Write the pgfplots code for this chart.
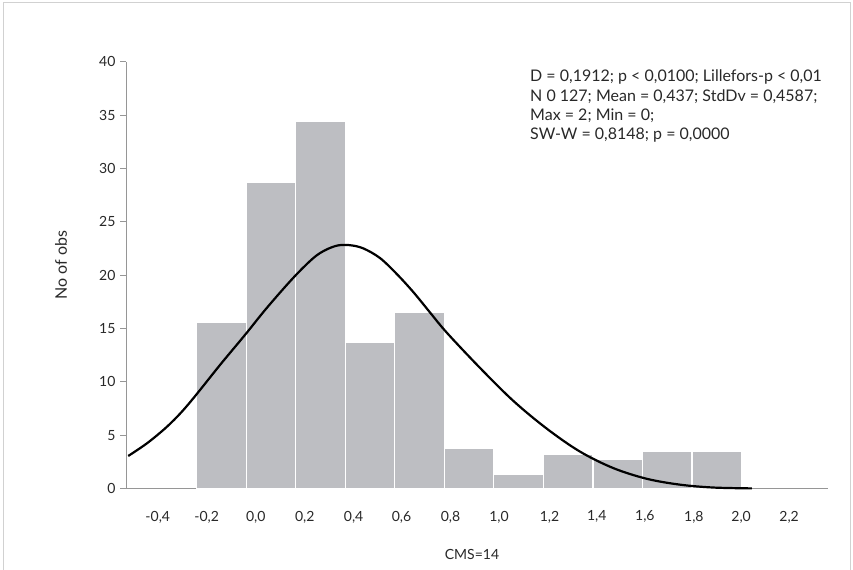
\documentclass[border=0pt]{standalone}
\usepackage{pgfplots}
\pgfplotsset{compat=1.18}
\usepackage{fontspec}
\setmainfont{Lato}
\definecolor{bargray}{RGB}{189,190,194}
\definecolor{txt}{RGB}{40,40,40}
\definecolor{axgray}{RGB}{150,150,150}
\begin{document}
\begin{tikzpicture}[x=1bp,y=1bp]
\useasboundingbox (0,0) rectangle (853,570);
\draw[black!18, line width=1bp] (3,-2) -- (3,567) -- (850,567) -- (850,-2);
\begin{axis}[
  at={(126bp,81.6bp)}, anchor=south west,
  scale only axis, width=702bp, height=426.6bp,
  xmin=-0.526, xmax=2.31, ymin=0, ymax=40,
  axis x line*=bottom, axis y line*=left,
  axis line style={axgray, line width=0.9bp},
  xtick={-0.3976,-0.2,-0.002,0.196,0.3935,0.587,0.785,0.981,1.185,1.376,1.570,1.768,1.959,2.153},
  xticklabels={-0{,}4,-0{,}2,0{,}0,0{,}2,0{,}4,0{,}6,0{,}8,1{,}0,1{,}2,1{,}4,1{,}6,1{,}8,2{,}0,2{,}2},
  x tick style={draw=none},
  ytick={0,5,...,40},
  y tick style={axgray, line width=0.9bp},
  tick align=outside, major tick length=6bp,
  /pgf/number format/assume math mode=true,
  tick label style={font=\fontsize{14bp}{16bp}\selectfont, text=txt},
  xticklabel style={yshift=-13bp},
  yticklabel style={xshift=-1bp},
  clip=false,
]
\addplot[ybar interval, fill=bargray, draw=white, line width=1.3bp] coordinates {
(-0.24,15.6) (-0.04,28.7) (0.16,34.4) (0.36,13.7) (0.56,16.5) (0.76,3.8)
(0.96,1.3) (1.16,3.2) (1.36,2.7) (1.56,3.5) (1.76,3.5) (1.96,3.5)};
\addplot[black, line width=2.2bp, smooth, tension=0.55] coordinates {
(-0.517,3.04) (-0.44,4.25) (-0.362,5.75) (-0.30,7.2) (-0.240,8.85) (-0.146,11.58)
(-0.045,14.4) (0.042,16.9) (0.150,19.75) (0.231,21.6) (0.28,22.35) (0.33,22.78)
(0.38,22.8) (0.433,22.5) (0.500,21.6) (0.568,20.1) (0.635,18.4) (0.702,16.5)
(0.770,14.6) (0.904,11.3) (1.039,8.2) (1.174,5.6) (1.308,3.45) (1.443,1.9)
(1.578,0.9) (1.712,0.35) (1.847,0.08) (2.002,0.0)};
\end{axis}
\node[anchor=north west, inner sep=0, align=left, text=txt,
  font=\fontsize{16bp}{19.1bp}\selectfont] at (530,500)
  {D = 0,1912; p < 0,0100; Lillefors-p < 0,01\\
   N 0 127; Mean = 0,437; StdDv = 0,4587;\\
   Max = 2; Min = 0;\\
   SW-W = 0,8148; p = 0,0000};
\node[text=txt, font=\fontsize{14bp}{16bp}\selectfont] at (472,15.5) {CMS=14};
\node[text=txt, rotate=90, font=\fontsize{16bp}{18bp}\selectfont] at (61,305) {No of obs};
\end{tikzpicture}
\end{document}
